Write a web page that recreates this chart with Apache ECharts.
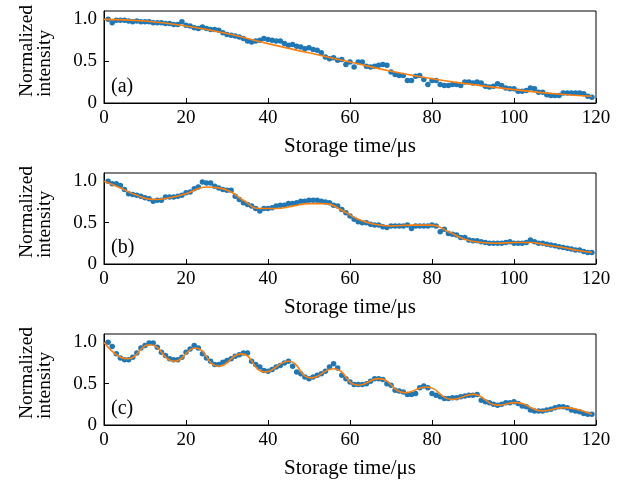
<!DOCTYPE html>
<html><head><meta charset="utf-8">
<script src="https://cdn.jsdelivr.net/npm/echarts@6/dist/echarts.min.js"></script>
<style>html,body{margin:0;padding:0;background:#fff}#c{width:624px;height:483px}</style>
</head><body><div id="c"></div>
<script>
// Storage time (µs) for every measured point
const times = [1,2,3,4,5,6,7,8,9,10,11,12,13,14,15,16,17,18,19,20,21,22,23,24,25,26,27,28,29,30,31,32,33,34,35,36,37,38,39,40,41,42,43,44,45,46,47,48,49,50,51,52,53,54,55,56,57,58,59,60,61,62,63,64,65,66,67,68,69,70,71,72,73,74,75,76,77,78,79,80,81,82,83,84,85,86,87,88,89,90,91,92,93,94,95,96,97,98,99,100,101,102,103,104,105,106,107,108,109,110,111,112,113,114,115,116,117,118,119];

const dataA = [1.00,0.96,0.99,0.99,0.99,0.98,0.97,0.98,0.97,0.97,0.97,0.96,0.96,0.96,0.95,0.95,0.94,0.94,0.97,0.93,0.92,0.90,0.89,0.91,0.89,0.88,0.88,0.87,0.84,0.82,0.81,0.80,0.79,0.77,0.74,0.73,0.74,0.75,0.77,0.76,0.75,0.74,0.74,0.71,0.69,0.70,0.68,0.67,0.65,0.66,0.64,0.63,0.60,0.55,0.53,0.54,0.51,0.52,0.46,0.49,0.43,0.49,0.49,0.44,0.43,0.44,0.45,0.46,0.45,0.37,0.34,0.33,0.33,0.27,0.27,0.32,0.33,0.28,0.22,0.27,0.27,0.22,0.21,0.21,0.22,0.22,0.21,0.25,0.25,0.24,0.25,0.24,0.20,0.19,0.20,0.23,0.21,0.18,0.17,0.17,0.14,0.14,0.15,0.18,0.17,0.13,0.13,0.10,0.09,0.09,0.09,0.12,0.12,0.12,0.12,0.12,0.11,0.08,0.07];
const fitTA = [0,10,20,30,40,50,60,70,80,90,100,110,119];
const fitA  = [1.00,0.98,0.92,0.83,0.71,0.60,0.49,0.38,0.29,0.22,0.16,0.11,0.08];

const dataB = [1.00,0.97,0.97,0.95,0.90,0.85,0.84,0.83,0.82,0.80,0.79,0.76,0.77,0.77,0.81,0.81,0.81,0.82,0.83,0.86,0.87,0.91,0.93,0.99,0.98,0.98,0.94,0.92,0.90,0.89,0.89,0.82,0.78,0.74,0.72,0.70,0.67,0.64,0.67,0.67,0.68,0.70,0.71,0.71,0.73,0.73,0.74,0.76,0.76,0.77,0.77,0.77,0.76,0.75,0.74,0.71,0.70,0.66,0.62,0.58,0.54,0.51,0.50,0.50,0.48,0.47,0.47,0.45,0.44,0.46,0.46,0.46,0.46,0.47,0.43,0.46,0.46,0.46,0.46,0.47,0.46,0.39,0.42,0.37,0.36,0.35,0.32,0.32,0.29,0.28,0.28,0.27,0.26,0.25,0.25,0.25,0.25,0.26,0.27,0.25,0.25,0.25,0.26,0.29,0.27,0.25,0.25,0.24,0.23,0.22,0.21,0.20,0.19,0.18,0.17,0.17,0.15,0.14,0.14];
const fitTB = [0,4,8,12,16,20,25,28,31,34,38,42,46,50,54,58,62,66,70,75,80,84,88,92,96,100,104,108,112,116,119];
const fitB  = [1.00,0.92,0.83,0.78,0.80,0.85,0.93,0.92,0.87,0.77,0.67,0.67,0.70,0.73,0.73,0.65,0.54,0.48,0.46,0.47,0.47,0.39,0.30,0.26,0.25,0.26,0.26,0.23,0.20,0.16,0.14];

const dataC = [1.00,0.95,0.86,0.81,0.79,0.79,0.82,0.87,0.93,0.96,0.99,0.99,0.94,0.88,0.84,0.80,0.79,0.79,0.82,0.88,0.92,0.96,0.93,0.86,0.81,0.77,0.73,0.73,0.76,0.78,0.80,0.83,0.85,0.87,0.87,0.77,0.73,0.70,0.66,0.65,0.67,0.70,0.72,0.75,0.77,0.71,0.64,0.62,0.58,0.56,0.58,0.60,0.62,0.65,0.70,0.74,0.69,0.60,0.56,0.52,0.49,0.49,0.49,0.50,0.53,0.56,0.56,0.55,0.50,0.48,0.42,0.41,0.40,0.37,0.37,0.38,0.45,0.47,0.45,0.38,0.36,0.34,0.32,0.32,0.33,0.33,0.34,0.35,0.36,0.36,0.37,0.30,0.28,0.27,0.25,0.24,0.25,0.27,0.27,0.28,0.26,0.23,0.22,0.18,0.17,0.17,0.17,0.18,0.19,0.21,0.22,0.22,0.21,0.18,0.17,0.16,0.14,0.13,0.13];
const fitTC = [0,5.8,11.2,17.2,22.3,27.9,33.5,39.2,45,50.4,56,62,67,73.5,78.5,85,90,96,100.5,107,112,119];
const fitC  = [1.00,0.80,0.97,0.77,0.93,0.71,0.86,0.64,0.77,0.57,0.68,0.48,0.56,0.39,0.46,0.31,0.37,0.24,0.27,0.17,0.21,0.13];

const xTicks = [0,20,40,60,80,100,120];
const yTicks = [0,0.5,1.0];
const yTickLabels = ['0','0.5','1.0'];
const panelLabels = ['(a)','(b)','(c)'];
const xName = 'Storage time/μs';
const yName = 'Normalized\nintensity';

const FONT = 'Liberation Serif';
const FS = 19;
const pair = (xs, ys) => xs.map((x, i) => [x, ys[i]]);

const gridTops = [11, 173, 334];
const gridHeights = [92, 91, 91];
const grids = gridTops.map((t, i) => ({left:104, right:28, top:t, height:gridHeights[i],
  show:true, borderColor:'#000', borderWidth:1, backgroundColor:'transparent'}));

const xAxes = [0,1,2].map(i => ({
  type:'value', gridIndex:i, min:0, max:120, interval:20,
  axisLine:{show:true, lineStyle:{color:'#000', width:1}},
  axisTick:{show:true, inside:true, length:5, lineStyle:{color:'#000'}, customValues:xTicks},
  axisLabel:{color:'#000', fontFamily:FONT, fontSize:FS, margin:6, customValues:xTicks},
  splitLine:{show:false},
  name:xName, nameLocation:'middle', nameGap:33,
  nameTextStyle:{color:'#000', fontFamily:FONT, fontSize:21}
}));

const yAxes = [0,1,2].map(i => ({
  type:'value', gridIndex:i, min:0, max:1.1,
  axisLine:{show:true, lineStyle:{color:'#000', width:1}},
  axisTick:{show:true, inside:true, length:5, lineStyle:{color:'#000'}, customValues:yTicks},
  axisLabel:{color:'#000', fontFamily:FONT, fontSize:FS, margin:7, customValues:yTicks,
    formatter: v => { const k = yTicks.findIndex(t => Math.abs(t - v) < 1e-6); return k >= 0 ? yTickLabels[k] : ''; }},
  splitLine:{show:false}
}));

const pts = [dataA, dataB, dataC];
const fitsT = [fitTA, fitTB, fitTC];
const fits = [fitA, fitB, fitC];
const series = [];
[0,1,2].forEach(i => {
  series.push({type:'scatter', xAxisIndex:i, yAxisIndex:i, data:pair(times, pts[i]),
    symbolSize:5.5, itemStyle:{color:'#1f77b4', opacity:1}, z:2, silent:true});
  series.push({type:'line', xAxisIndex:i, yAxisIndex:i, data:pair(fitsT[i], fits[i]),
    smooth:0.5, showSymbol:false, lineStyle:{color:'#ff7f0e', width:1.6}, z:3, silent:true});
});

const labelY = [87, 248, 409];
const graphic = [];
panelLabels.forEach((t, i) => {
  graphic.push({type:'text', x:111, y:labelY[i],
    style:{text:t, fontFamily:FONT, fontSize:20, fill:'#000', align:'left', verticalAlign:'middle'}});
  // rotated y-axis title, lines aligned at their start like the reference
  graphic.push({type:'text', x:18, y:gridTops[i] + gridHeights[i] - 6, rotation:Math.PI/2,
    style:{text:yName, fontFamily:FONT, fontSize:19.5, lineHeight:18, fill:'#000', align:'left', verticalAlign:'top'}});
});

const chart = echarts.init(document.getElementById('c'), null, {renderer:'canvas'});
chart.setOption({animation:false, backgroundColor:'#fff', grid:grids, xAxis:xAxes, yAxis:yAxes, series, graphic});
</script></body></html>
